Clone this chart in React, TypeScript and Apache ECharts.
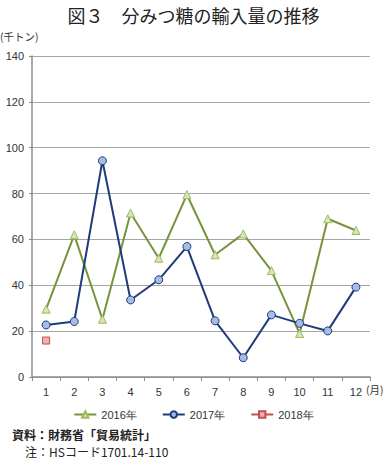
import React, { useEffect, useRef } from "react";
import * as echarts from "echarts";

const months = ["1", "2", "3", "4", "5", "6", "7", "8", "9", "10", "11", "12"];
const y2016 = [29.6, 62, 25.2, 71.5, 51.8, 79.5, 53.3, 62.4, 46.4, 19, 69, 63.9];
const y2017 = [22.7, 24.2, 94.3, 33.6, 42.4, 56.9, 24.5, 8.4, 27.1, 23.4, 20.1, 39.2];
const y2018 = [15.9, null, null, null, null, null, null, null, null, null, null, null];
const yTicks = { min: 0, max: 140, interval: 20 };

const JP = '"Noto Sans CJK JP", "Liberation Sans", sans-serif';
const NUM = '"Liberation Sans", Arial, sans-serif';

export default function App() {
  const ref = useRef<HTMLDivElement>(null);
  useEffect(() => {
    const chart = echarts.init(ref.current!, null, { renderer: "svg" });
    chart.setOption({
      animation: false,
      backgroundColor: "#ffffff",
      grid: { left: 32, right: 17, top: 56, bottom: 82, containLabel: false },
      title: {
        text: "図３　分みつ糖の輸入量の推移",
        left: "center",
        top: 1,
        textStyle: { fontFamily: JP, fontSize: 18, fontWeight: "normal", color: "#222" },
      },
      legend: {
        bottom: 34,
        left: "center",
        itemWidth: 22,
        itemHeight: 8,
        itemGap: 25,
        textStyle: { fontFamily: NUM, fontSize: 11, color: "#333" },
        data: ["2016年", "2017年", "2018年"],
      },
      graphic: [
        {
          type: "text",
          left: 0,
          top: 31,
          style: { text: "(千トン)", fontFamily: JP, fontSize: 10.5, fill: "#333" },
        },
        {
          type: "text",
          left: 366,
          top: 384,
          style: { text: "(月)", fontFamily: JP, fontSize: 10.5, fill: "#333" },
        },
        {
          type: "text",
          left: 12,
          top: 428,
          style: { text: "資料：財務省「貿易統計」", fontFamily: JP, fontSize: 12, fontWeight: "bold", fill: "#222" },
        },
        {
          type: "text",
          left: 25,
          top: 445,
          style: { text: "注：HSコード1701.14-110", fontFamily: JP, fontSize: 12, fill: "#222" },
        },
      ],
      xAxis: {
        type: "category",
        data: months,
        boundaryGap: true,
        axisLine: { lineStyle: { color: "#8c8c8c", width: 1.5 } },
        axisTick: { show: true, alignWithLabel: false, length: 4, lineStyle: { color: "#8c8c8c" } },
        axisLabel: { fontFamily: NUM, fontSize: 11, color: "#333", margin: 9 },
        splitLine: { show: false },
      },
      yAxis: {
        type: "value",
        min: yTicks.min,
        max: yTicks.max,
        interval: yTicks.interval,
        axisLine: { show: true, lineStyle: { color: "#8c8c8c", width: 1.5 } },
        axisTick: { show: true, length: 3, lineStyle: { color: "#8c8c8c" } },
        axisLabel: { fontFamily: NUM, fontSize: 11, color: "#333", margin: 8 },
        splitLine: { show: true, lineStyle: { color: "#a6a6a6", width: 1 } },
      },
      series: [
        {
          name: "2016年",
          type: "line",
          data: y2016,
          symbol: "triangle",
          symbolSize: 8,
          lineStyle: { color: "#77933c", width: 2 },
          itemStyle: { color: "#d7e4bd", borderColor: "#9bbb59", borderWidth: 1 },
          z: 2,
        },
        {
          name: "2017年",
          type: "line",
          data: y2017,
          symbol: "circle",
          symbolSize: 8,
          lineStyle: { color: "#1f3c78", width: 2 },
          itemStyle: { color: "#a5bde6", borderColor: "#1f3c78", borderWidth: 1 },
          z: 3,
        },
        {
          name: "2018年",
          type: "line",
          data: y2018,
          symbol: "rect",
          symbolSize: 7,
          showSymbol: true,
          lineStyle: { color: "#c0504d", width: 2 },
          itemStyle: { color: "#f2b0b0", borderColor: "#c0504d", borderWidth: 1 },
          z: 4,
        },
      ],
    });
    return () => chart.dispose();
  }, []);
  return <div ref={ref} style={{ width: 387, height: 459, position: "absolute", left: 0, top: 0 }} />;
}
